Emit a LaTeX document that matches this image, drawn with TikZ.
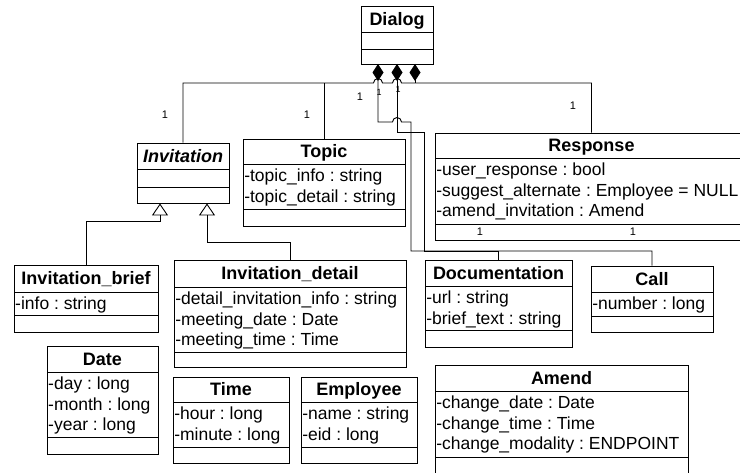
\documentclass[tikz,border=0pt]{standalone}
\usepackage{fontspec}
\setmainfont{Liberation Sans}
\usetikzlibrary{arrows.meta,fit}

% #1 name, #2 left, #3 top, #4 right, #5 bottom, #6 first separator,
% #7 second separator, #8 class name, #9 attributes
\newcommand{\umlclass}[9]{%
  \node[classbox, fit={(#2,#3) (#4,#5)}] (#1) {};
  \draw (#2,#6) -- (#4,#6);
  \draw (#2,#7) -- (#4,#7);
  \node[titletext] (#1-title) at ({(#2+#4)/2},{(#3+#6)/2}) {#8};
  \node[attrtext] (#1-attr) at (#2,#6) {\rule{0pt}{13pt}#9};
}

\begin{document}
\frenchspacing
\begin{tikzpicture}[x=1pt,y=-1pt,line width=0.9pt,
  classbox/.style={draw, inner sep=0pt},
  titletext/.style={inner sep=0pt, text height=12.9pt, text depth=0pt,
    font=\fontsize{18}{20}\selectfont\bfseries},
  attrtext/.style={anchor=north west, align=left, inner xsep=0.8pt, inner ysep=4.5pt,
    font=\fontsize{17.5}{20.3}\selectfont\frenchspacing},
  mult/.style={inner sep=0pt, font=\fontsize{11}{13}\selectfont},
  tinymult/.style={inner sep=0pt, font=\fontsize{9}{10}\selectfont},
  comp/.style={{Diamond[width=11pt,length=17pt]}-},
  gen/.style={-{Triangle[open,width=16pt,length=12pt]}}
]
\useasboundingbox (0,0) rectangle (740,473);

% classes
\umlclass{dialog}{361}{6}{433}{64}{32}{49}{Dialog}{}
\umlclass{invitation}{137}{143}{229}{203}{169}{187}{\itshape Invitation}{}
\umlclass{topic}{243}{139}{405}{226}{164}{209}{Topic}{-topic\_info : string\\-topic\_detail : string}
\umlclass{response}{435}{133}{748}{240}{158}{224}{Response}{-user\_response : bool\\-suggest\_alternate : Employee = NULL\\-amend\_invitation : Amend}
\umlclass{brief}{14}{265}{158}{332}{292}{315}{Invitation\_brief}{-info : string}
\umlclass{detail}{174}{260}{406}{367}{287}{352}{Invitation\_detail}{-detail\_invitation\_info : string\\-meeting\_date : Date\\-meeting\_time : Time}
\umlclass{documentation}{425}{260}{572}{347}{286}{330}{Documentation}{-url : string\\-brief\_text : string}
\umlclass{call}{591}{266}{713}{332}{292}{316}{Call}{-number : long}
\umlclass{date}{47}{346}{158}{454}{372}{437}{Date}{-day : long\\-month : long\\-year : long}
\umlclass{time}{173}{377}{289}{463}{402}{447}{Time}{-hour : long\\-minute : long}
\umlclass{employee}{301}{377}{417}{463}{402}{447}{Employee}{-name : string\\-eid : long}
\umlclass{amend}{435}{365}{688}{475}{391}{457}{Amend}{-change\_date : Date\\-change\_time : Time\\-change\_modality : ENDPOINT}

% composition anchors under Dialog
\coordinate (d1) at (378,64);
\coordinate (d2) at (397,64);
\coordinate (d3) at (415,64);

% shared bus to Invitation, Topic and Response
\draw (invitation.north) -- (invitation.north |- 0,83) -- (373.5,83)
  arc (180:0:4.5pt) -- (392.5,83) arc (180:0:4.5pt)
  -- (response.north |- 0,83) -- (response.north);
\draw (topic.north) -- (topic.north |- 0,83);
\draw[comp] (d3) -- (d3 |- 0,83);

% compositions to Call and Documentation
\draw[comp] (d1) -- (378,122) -- (392.5,122) arc (180:0:4.5pt)
  -- (411,122) -- (411,251) -- (call.north |- 0,251) -- (call.north);
\draw[comp] (d2) -- (397,132) -- (424,132) -- (424,251)
  -- (documentation.north |- 0,251) -- (documentation.north);

% generalizations
\draw[gen] (brief.north) -- (brief.north |- 0,221) -- (160,221) -- (invitation.south -| 160,0);
\draw[gen] (detail.north) -- (detail.north |- 0,242) -- (207,242) -- (invitation.south -| 207,0);

% multiplicities
\node[mult] (m1) at (165,115) {1};
\node[mult] (m2) at (307,115) {1};
\node[mult] (m3) at (360,97) {1};
\node[mult] (m4) at (573,106) {1};
\node[tinymult] (m5) at (379,92) {1};
\node[tinymult] (m6) at (398,89) {1};
\node[mult] (m7) at (480,232) {1};
\node[mult] (m8) at (633,232) {1};
\end{tikzpicture}
\end{document}
